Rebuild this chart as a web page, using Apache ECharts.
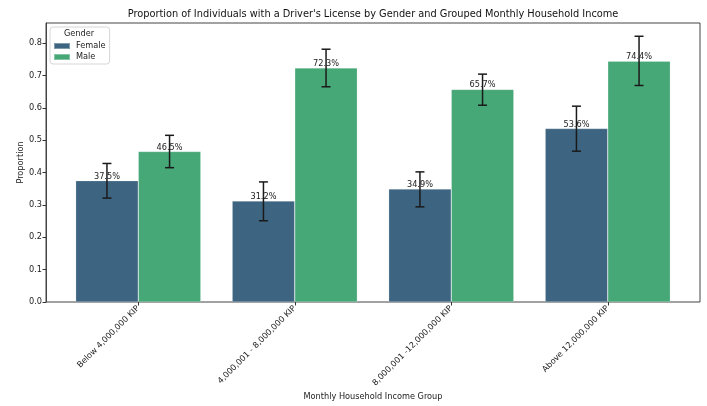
<!DOCTYPE html>
<html>
<head>
<meta charset="utf-8">
<script src="https://cdn.jsdelivr.net/npm/echarts@6/dist/echarts.min.js"></script>
<style>
  html, body { margin: 0; padding: 0; background: #fff; }
  #chart { width: 707px; height: 406px; }
</style>
</head>
<body>
<div id="chart"></div>
<script>
// Income groups on the x axis
const incomeGroups = [
  'Below 4,000,000 KIP',
  '4,000,001 - 8,000,000 KIP',
  '8,000,001 -12,000,000 KIP',
  'Above 12,000,000 KIP'
];
const genders = ['Female', 'Male'];

// Share of people holding a licence, per group
const femaleShare = [0.375, 0.312, 0.349, 0.536];
const maleShare = [0.465, 0.723, 0.657, 0.744];

// Confidence interval bounds
const femaleLow = [0.321, 0.251, 0.294, 0.466];
const femaleHigh = [0.428, 0.371, 0.402, 0.605];
const maleLow = [0.415, 0.665, 0.608, 0.669];
const maleHigh = [0.515, 0.781, 0.704, 0.821];

const yTicks = [0, 0.1, 0.2, 0.3, 0.4, 0.5, 0.6, 0.7, 0.8];
const yMax = 0.862;

const colors = { Female: '#3d6480', Male: '#46a777' };
const FONT = 'DejaVu Sans';
const FS = 8.2;

const chart = echarts.init(document.getElementById('chart'));

// Error bar drawn as vertical line with caps, offset to its bar within the band
function errorBarSeries(name, low, high, side) {
  return {
    type: 'custom',
    name: name + ' CI',
    xAxisIndex: 1,
    yAxisIndex: 1,
    z: 10,
    silent: true,
    data: low.map((l, i) => [i, l, high[i]]),
    renderItem: function (params, api) {
      const idx = api.value(0);
      const band = api.size([1, 0])[0];
      const lo = api.coord([idx, api.value(1)]);
      const hi = api.coord([idx, api.value(2)]);
      const x = lo[0] + side * band * 0.2;
      const cap = 4.5;
      const style = { stroke: '#1a1a1a', lineWidth: 1.5 };
      return {
        type: 'group',
        children: [
          { type: 'line', shape: { x1: x, y1: lo[1], x2: x, y2: hi[1] }, style: style },
          { type: 'line', shape: { x1: x - cap, y1: lo[1], x2: x + cap, y2: lo[1] }, style: style },
          { type: 'line', shape: { x1: x - cap, y1: hi[1], x2: x + cap, y2: hi[1] }, style: style }
        ]
      };
    }
  };
}

function barSeries(name, values) {
  return {
    type: 'bar',
    name: name,
    xAxisIndex: 1,
    yAxisIndex: 1,
    data: values,
    barGap: '0%',
    barCategoryGap: '20%',
    itemStyle: { color: colors[name], borderColor: 'rgba(255,255,255,0.35)', borderWidth: 0.6 },
    label: {
      show: true,
      position: 'top',
      distance: 0,
      fontFamily: FONT,
      fontSize: FS,
      color: '#222',
      formatter: p => (p.value * 100).toFixed(1) + '%'
    }
  };
}

const option = {
  animation: false,
  textStyle: { fontFamily: FONT },
  title: [
    {
      text: "Proportion of Individuals with a Driver's License by Gender and Grouped Monthly Household Income",
      left: 373,
      top: 9,
      padding: 0,
      textAlign: 'center',
      textStyle: { fontFamily: FONT, fontSize: 9.8, fontWeight: 'normal', color: '#111' }
    },
    {
      text: 'Gender',
      left: 79,
      top: 30,
      padding: 0,
      textAlign: 'center',
      textStyle: { fontFamily: FONT, fontSize: FS, fontWeight: 'normal', color: '#222' }
    }
  ],
  legend: {
    data: genders,
    orient: 'vertical',
    left: 50,
    top: 27,
    padding: [15, 4, 3, 3],
    itemWidth: 16,
    itemHeight: 6,
    itemGap: 3,
    icon: 'rect',
    borderColor: '#d6d6d6',
    borderWidth: 1,
    borderRadius: 3,
    backgroundColor: 'rgba(255,255,255,0.8)',
    textStyle: { fontFamily: FONT, fontSize: FS, color: '#222', padding: [0, 0, 0, 1] }
  },
  grid: [
    // axes frame
    { left: 46, right: 7, top: 23, bottom: 104, show: true, borderColor: '#444', borderWidth: 1,
      backgroundColor: 'transparent', outerBoundsMode: 'none', containLabel: false },
    // bar area
    { left: 60, right: 21, top: 23, bottom: 104, outerBoundsMode: 'none', containLabel: false }
  ],
  xAxis: [
    { gridIndex: 0, type: 'value', show: false, min: 0, max: 1 },
    {
      gridIndex: 1,
      type: 'category',
      data: incomeGroups,
      axisLine: { show: false },
      axisTick: { show: true, alignWithLabel: true, length: 3.5, lineStyle: { color: '#333' } },
      axisLabel: { rotate: 45, fontFamily: FONT, fontSize: FS, color: '#222', margin: 5, interval: 0 },
      name: 'Monthly Household Income Group',
      nameLocation: 'middle',
      nameGap: 91,
      nameMoveOverlap: false,
      nameTextStyle: { fontFamily: FONT, fontSize: FS, color: '#222' }
    }
  ],
  yAxis: [
    {
      gridIndex: 0,
      type: 'value',
      min: 0,
      max: yMax,
      interval: 0.1,
      splitLine: { show: false },
      axisLine: { show: true, lineStyle: { color: '#444' } },
      axisTick: { show: true, length: 3.5, lineStyle: { color: '#333' } },
      axisLabel: {
        fontFamily: FONT, fontSize: FS, color: '#222', margin: 4, showMaxLabel: false,
        formatter: v => {
          const t = yTicks.find(k => Math.abs(k - v) < 1e-6);
          return t === undefined ? '' : t.toFixed(1);
        }
      },
      name: 'Proportion',
      nameLocation: 'middle',
      nameGap: 21,
      nameMoveOverlap: false,
      nameTextStyle: { fontFamily: FONT, fontSize: FS, color: '#222' }
    },
    { gridIndex: 1, type: 'value', min: 0, max: yMax, show: false }
  ],
  series: [
    barSeries('Female', femaleShare),
    barSeries('Male', maleShare),
    errorBarSeries('Female', femaleLow, femaleHigh, -1),
    errorBarSeries('Male', maleLow, maleHigh, 1)
  ]
};

chart.setOption(option);
</script>
</body>
</html>
